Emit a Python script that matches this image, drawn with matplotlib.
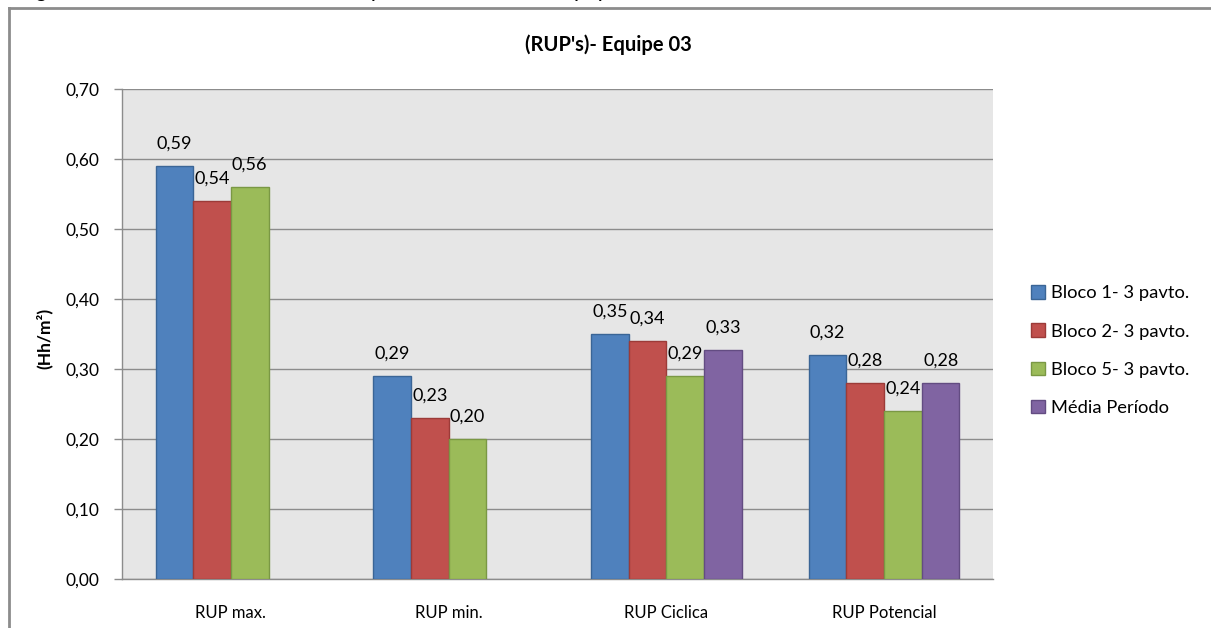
import matplotlib
matplotlib.use("Agg")
import matplotlib.pyplot as plt
import numpy as np
from matplotlib.lines import Line2D

categories = ["RUP max.", "RUP min.", "RUP Ciclica", "RUP Potencial"]
series_names = ["Bloco 1- 3 pavto.", "Bloco 2- 3 pavto.", "Bloco 5- 3 pavto.", "Média Período"]
bloco1 = [0.59, 0.29, 0.35, 0.32]
bloco2 = [0.54, 0.23, 0.34, 0.28]
bloco5 = [0.56, 0.20, 0.29, 0.24]
media = [None, None, 0.327, 0.28]
yticks = [0.0, 0.1, 0.2, 0.3, 0.4, 0.5, 0.6, 0.7]
colors = ["#4F81BD", "#C0504D", "#9BBB59", "#8064A2"]
edges = ["#3A6596", "#9C3B38", "#7A9844", "#634C82"]

plt.rcParams['font.family'] = ['Lato', 'DejaVu Sans']

W, H = 1211, 628
fig = plt.figure(figsize=(W / 100, H / 100), dpi=100)
fig.patch.set_facecolor("white")

# outer chart frame (left and top visible)
fig.add_artist(Line2D([8.5 / W, 8.5 / W], [0, 1 - 8 / H], transform=fig.transFigure, color="#8C8C8C", lw=2))
fig.add_artist(Line2D([8.5 / W, 1.0], [1 - 8 / H, 1 - 8 / H], transform=fig.transFigure, color="#8C8C8C", lw=2))

# clipped caption at the very top (only its lowest part is visible)
fig.text(0.012, 1 + 4.0 / H, "Figura 6 – Gráfico dos índices de produtividade da equipe 03",
         fontsize=17, family=['Liberation Sans'], va='baseline', ha='left', color="black")

ax = fig.add_axes([122 / W, 1 - 579 / H, (993 - 122) / W, (579 - 89) / H])
ax.set_facecolor("#E6E6E6")

x = np.arange(len(categories))
bw = 0.173
data = [bloco1, bloco2, bloco5, media]
offsets = [-1.5, -0.5, 0.5, 1.5]
for s, (vals, off) in enumerate(zip(data, offsets)):
    xs = [xi + off * bw for xi, v in zip(x, vals) if v is not None]
    vs = [v for v in vals if v is not None]
    ax.bar(xs, vs, width=bw, color=colors[s], edgecolor=edges[s], linewidth=1.0,
           label=series_names[s], zorder=3)
    for xx, v in zip(xs, vs):
        ax.annotate(f"{v:.2f}".replace(".", ","), (xx, v), xytext=(0, 16), textcoords="offset points",
                    ha="center", va="center", fontsize=13, color="black", zorder=4)

ax.set_xlim(-0.5, len(categories) - 0.5)
ax.set_ylim(0, 0.7)
ax.set_yticks(yticks)
ax.set_yticklabels([f"{t:.2f}".replace(".", ",") for t in yticks], fontsize=12.5)
ax.yaxis.grid(True, color="#8C8C8C", linewidth=1, zorder=0)
ax.set_axisbelow(True)
ax.set_xticks(x)
ax.set_xticklabels(categories, fontsize=12)
ax.tick_params(axis='x', length=0, pad=19)
ax.tick_params(axis='y', length=6, color="#8C8C8C", width=1, pad=10)
for sp in ["top", "right"]:
    ax.spines[sp].set_visible(False)
for sp in ["left", "bottom"]:
    ax.spines[sp].set_color("#8C8C8C")
    ax.spines[sp].set_linewidth(1)

ax.set_ylabel("(Hh/m²)", fontsize=12.5, fontweight="bold")
ax.yaxis.set_label_coords(-0.08, 0.49)

fig.text(608 / W, 1 - 45 / H, "(RUP's)- Equipe 03", ha="center", va="center", fontsize=14.5, fontweight="bold")

fig.legend(loc="upper left", bbox_to_anchor=(1024 / W, 1 - 278 / H), frameon=False,
           fontsize=13.2, handlelength=0.75, handleheight=0.75, handletextpad=0.3,
           labelspacing=1.2, borderaxespad=0)

fig.savefig("out.png", dpi=100, facecolor="white")
